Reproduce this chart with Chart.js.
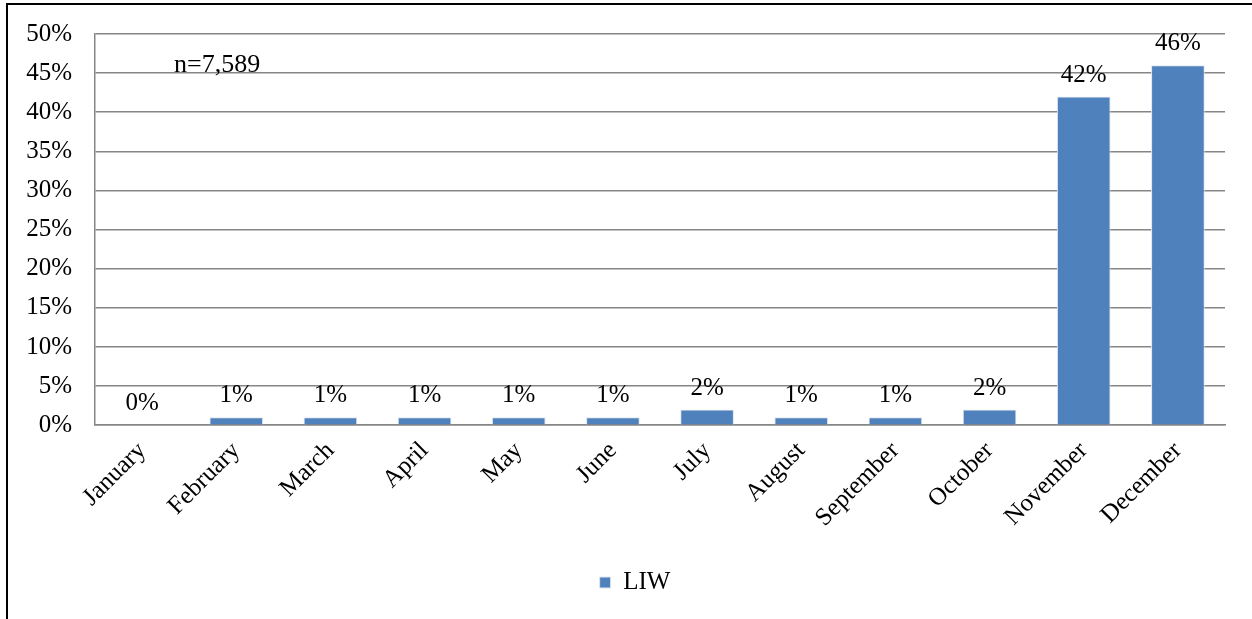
<!DOCTYPE html>
<html>
<head>
<meta charset="utf-8">
<script src="https://cdn.jsdelivr.net/npm/chart.js@4/dist/chart.umd.min.js"></script>
<style>
    html, body { margin: 0; padding: 0; background: #fff; overflow: hidden; }
    #frame {
        position: absolute;
        left: 6px;
        top: 3px;
        width: 1260px;
        height: 630px;
        border-left: 2px solid #000;
        border-top: 2px solid #000;
    }
    #chartBox { position: absolute; left: 0; top: -9px; width: 1244px; height: 623px; }
</style>
</head>
<body>
<div id="frame">
    <div id="chartBox"><canvas id="liwChart"></canvas></div>
</div>
<script>
// Chart data
const months = ['January', 'February', 'March', 'April', 'May', 'June', 'July',
    'August', 'September', 'October', 'November', 'December'];
const liwShare = [0, 1, 1, 1, 1, 1, 2, 1, 1, 2, 42, 46];
const seriesName = 'LIW';
const sampleNote = 'n=7,589';

const serif = 'Liberation Serif';
const fontSize = 25;

// Value labels above each bar
const barLabels = {
    id: 'barLabels',
    afterDatasetsDraw(chart) {
        const ctx = chart.ctx;
        const meta = chart.getDatasetMeta(0);
        ctx.save();
        ctx.font = fontSize + 'px "' + serif + '"';
        ctx.fillStyle = '#000';
        ctx.textAlign = 'center';
        ctx.textBaseline = 'alphabetic';
        meta.data.forEach((bar, i) => {
            ctx.fillText(liwShare[i] + '%', bar.x, bar.y - 15);
        });
        ctx.restore();
    }
};

// Sample size note in the top-left of the plot
const noteLabel = {
    id: 'noteLabel',
    afterDraw(chart) {
        const ctx = chart.ctx;
        const area = chart.chartArea;
        ctx.save();
        ctx.font = '26px "' + serif + '"';
        ctx.fillStyle = '#000';
        ctx.textAlign = 'left';
        ctx.textBaseline = 'alphabetic';
        ctx.fillText(sampleNote, area.left + 79, area.top + 38);
        ctx.restore();
    }
};

// Centre the legend under the plot area rather than the whole canvas
const legendShift = {
    id: 'legendShift',
    afterLayout(chart) {
        const legend = chart.legend;
        if (!legend) return;
        const area = chart.chartArea;
        const offset = (area.left + area.right) / 2 - (legend.left + legend.right) / 2 - 25;
        legend.left += offset;
        legend.right += offset;
    }
};

new Chart(document.getElementById('liwChart'), {
    type: 'bar',
    data: {
        labels: months,
        datasets: [{
            label: seriesName,
            data: liwShare,
            backgroundColor: '#4F81BD',
            borderColor: '#dfe6ee',
            borderWidth: 1,
            categoryPercentage: 0.57,
            barPercentage: 1.0
        }]
    },
    options: {
        responsive: true,
        maintainAspectRatio: false,
        animation: false,
        layout: {
            padding: { top: 1, right: 27, left: 0, bottom: 14 }
        },
        plugins: {
            legend: {
                position: 'bottom',
                labels: {
                    color: '#000',
                    boxWidth: 11,
                    boxHeight: 11,
                    padding: 26,
                    font: { family: serif, size: fontSize }
                }
            },
            tooltip: { enabled: false }
        },
        scales: {
            y: {
                min: 0,
                max: 50,
                afterFit: function (scale) {
                    scale.width = 87;
                },
                ticks: {
                    stepSize: 5,
                    color: '#000',
                    padding: 23,
                    font: { family: serif, size: fontSize },
                    callback: function (value) {
                        return value + '%';
                    }
                },
                grid: {
                    color: '#868686',
                    lineWidth: 1.5,
                    drawTicks: false
                },
                border: { color: '#868686', width: 1.5 }
            },
            x: {
                ticks: {
                    color: '#000',
                    minRotation: 45,
                    maxRotation: 45,
                    padding: 11,
                    font: { family: serif, size: fontSize }
                },
                grid: { display: false, drawTicks: false },
                border: { color: '#868686', width: 1.5 }
            }
        }
    },
    plugins: [barLabels, noteLabel, legendShift]
});
</script>
</body>
</html>
